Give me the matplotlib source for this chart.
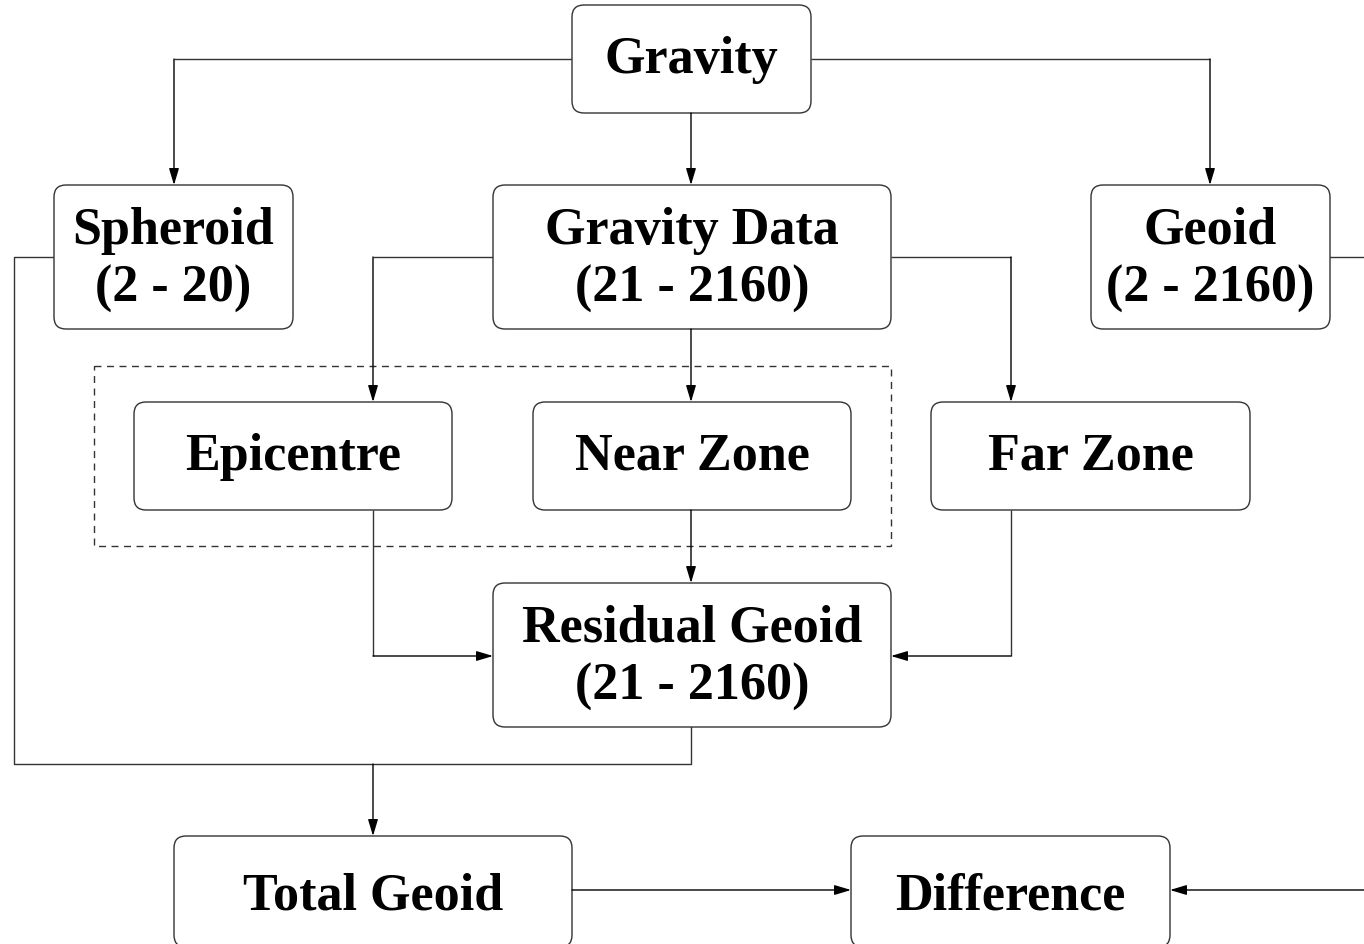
import matplotlib
matplotlib.use("Agg")
import matplotlib.pyplot as plt
from matplotlib.patches import FancyBboxPatch, Rectangle

# ---- content ----
node_names = ["gravity", "spheroid", "gdata", "geoid", "epi", "near", "far",
              "resid", "total", "diff"]
node_labels = ["Gravity", "Spheroid\n(2 - 20)", "Gravity Data\n(21 - 2160)",
               "Geoid\n(2 - 2160)", "Epicentre", "Near Zone", "Far Zone",
               "Residual Geoid\n(21 - 2160)", "Total Geoid", "Difference"]

# ---- layout (pixel space, y down) ----
boxes = {
    "gravity": (572, 6, 811, 114),
    "spheroid": (54, 186, 293, 330),
    "gdata": (493, 186, 891, 330),
    "geoid": (1091, 186, 1330, 330),
    "epi": (134, 403, 452, 511),
    "near": (533, 403, 851, 511),
    "far": (931, 403, 1250, 511),
    "resid": (493, 584, 891, 728),
    "total": (174, 837, 572, 948),
    "diff": (851, 837, 1170, 948),
}
W, H = 1364, 945
fig = plt.figure(figsize=(W / 100, H / 100), dpi=100)
ax = fig.add_axes([0, 0, 1, 1])
ax.set_xlim(0, W)
ax.set_ylim(H, 0)
ax.axis("off")

LC = "#333333"
LW = 1.0
FONT = "Liberation Serif"
FS = 37.5

# dashed grouping rectangle
ax.add_patch(Rectangle((94, 367), 891 - 94, 547 - 367, fill=False,
                       ls=(0, (5, 4)), lw=LW, ec=LC, zorder=1))

for name, label in zip(node_names, node_labels):
    x0, y0, x1, y1 = boxes[name]
    r = 12
    ax.add_patch(FancyBboxPatch((x0 + r, y0 + r), (x1 - x0) - 2 * r, (y1 - y0) - 2 * r,
                                boxstyle=f"round,pad={r}", fc="white", ec=LC,
                                lw=LW, zorder=2))
    cx = (x0 + x1) / 2
    lines = label.split("\n")
    if len(lines) == 2:
        ax.text(cx, y0 + 45, lines[0], ha="center", va="center", family=FONT,
                weight="bold", fontsize=FS, zorder=3)
        ax.text(cx, y0 + 103, lines[1], ha="center", va="center", family=FONT,
                weight="bold", fontsize=FS, zorder=3)
    else:
        cy = y0 + 54 if name not in ("total", "diff") else y0 + 60
        ax.text(cx, cy, label, ha="center", va="center", family=FONT,
                weight="bold", fontsize=FS, zorder=3)


def poly(pts, arrow=True):
    xs = [p[0] for p in pts]
    ys = [p[1] for p in pts]
    if arrow:
        ax.plot(xs[:-1], ys[:-1], color=LC, lw=LW, zorder=1, solid_capstyle="butt")
        ax.annotate("", xy=pts[-1], xytext=pts[-2],
                    arrowprops=dict(arrowstyle="-|>,head_length=1.0,head_width=0.3",
                                    color="black", lw=LW, shrinkA=0, shrinkB=0),
                    zorder=4)
    else:
        ax.plot(xs, ys, color=LC, lw=LW, zorder=1)


# edges
poly([(572, 60), (174, 60), (174, 186)])
poly([(691, 114), (691, 186)])
poly([(811, 60), (1210, 60), (1210, 186)])
poly([(54, 258), (14, 258), (14, 765), (691, 765), (691, 728)], arrow=False)
poly([(373, 765), (373, 837)])
poly([(493, 258), (373, 258), (373, 403)])
poly([(691, 330), (691, 403)])
poly([(891, 258), (1011, 258), (1011, 403)])
poly([(373, 511), (373, 657), (493, 657)])
poly([(691, 511), (691, 584)])
poly([(1011, 511), (1011, 657), (891, 657)])
poly([(572, 891), (851, 891)])
poly([(1330, 258), (1370, 258)], arrow=False)
poly([(1370, 891), (1170, 891)])

fig.savefig("out.png", dpi=100)
